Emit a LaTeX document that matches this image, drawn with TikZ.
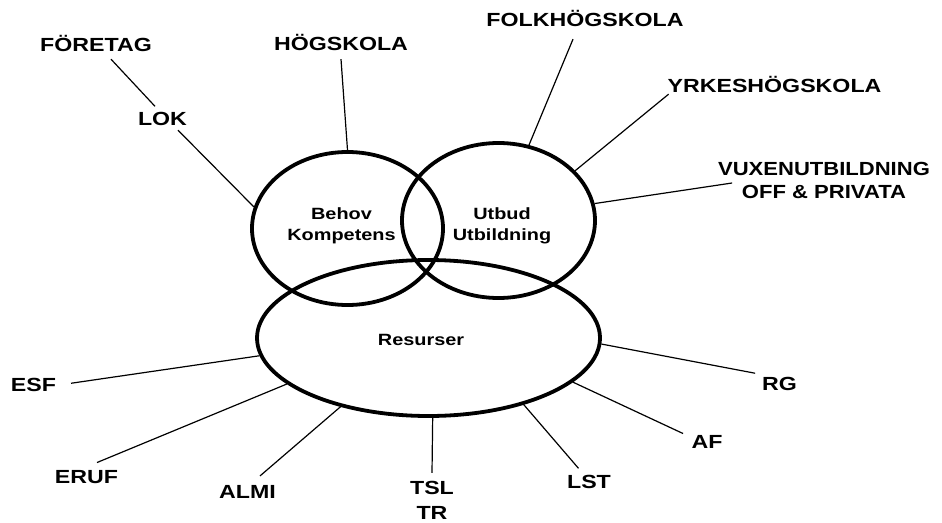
\documentclass[tikz,border=0pt]{standalone}
\usepackage{fontspec}
\setmainfont{Liberation Sans}
\usetikzlibrary{shapes.geometric}
\newcommand{\stx}[1]{\scalebox{1.22}[1]{#1}}
\newcommand{\stxn}[1]{\scalebox{1.16}[1]{#1}}
\begin{document}
\begin{tikzpicture}[x=1pt,y=-1pt,
  lbl/.style={font=\fontsize{19}{23}\selectfont\bfseries, inner sep=0pt, outer sep=0pt, anchor=base},
  lbltwo/.style={font=\fontsize{19}{23}\selectfont\bfseries, inner sep=0pt, outer sep=0pt, align=center},
  innertxt/.style={font=\fontsize{16.3}{21}\selectfont\bfseries, inner sep=0pt, align=center},
  setshape/.style={draw, ellipse, line width=3.8pt, inner sep=0pt},
  link/.style={line width=1.2pt}]
\useasboundingbox (0,0) rectangle (942,522);

% sets
\node[setshape, minimum width=191pt, minimum height=153pt] (L) at (347.5,228.5) {};
\node[setshape, minimum width=193pt, minimum height=155pt] (R) at (498.5,220.5) {};
\node[setshape, minimum width=343pt, minimum height=156pt] (B) at (428.5,338) {};

% inner texts
\node[innertxt] (behov) at (341.5,226) {\stx{Behov}\\\stx{Kompetens}};
\node[innertxt] (utbud) at (502,226) {\stx{Utbud}\\\stx{Utbildning}};
\node[innertxt, anchor=base] (res) at (421,345) {\stx{Resurser}};

% outer labels
\node[lbl] (foretag) at (96,51.5) {\stx{FÖRETAG}};
\node[lbl] (hog) at (341,50) {\stx{HÖGSKOLA}};
\node[lbl] (lok) at (162.5,125) {\stx{LOK}};
\node[lbl] (folk) at (585,27) {\stx{FOLKHÖGSKOLA}};
\node[lbl] (yrk) at (774.5,92) {\stx{YRKESHÖGSKOLA}};
\node[lbltwo] (vux) at (824,180) {\stxn{VUXENUTBILDNING}\\\stxn{OFF \& PRIVATA}};
\node[lbl] (esf) at (33.5,391.8) {\stx{ESF}};
\node[lbl] (eruf) at (86.5,483) {\stx{ERUF}};
\node[lbl] (almi) at (247.5,498) {\stx{ALMI}};
\node[lbltwo, font=\fontsize{19}{25}\selectfont\bfseries] (tsl) at (432,500) {\stx{TSL}\\\stx{TR}};
\node[lbl] (lst) at (589,488) {\stx{LST}};
\node[lbl] (af) at (707,448) {\stx{AF}};
\node[lbl] (rg) at (779.5,390.5) {\stx{RG}};

% connectors
\draw[link] ([xshift=15pt,yshift=-7.5pt]foretag.south) -- ([xshift=-7.5pt,yshift=5.4pt]lok.north);
\draw[link] ([xshift=15.5pt,yshift=-5pt]lok.south) -- (L.167);
\draw[link] ([yshift=-9pt]hog.south) -- (L.north);
\draw[link] ([xshift=-12pt,yshift=-12pt]folk.south) -- (R.68);
\draw[link] ([xshift=1pt,yshift=-2pt]yrk.south west) -- (R.33);
\draw[link] ([xshift=14pt,yshift=-3pt]vux.west) -- (R.10);
\draw[link] ([xshift=15pt,yshift=2pt]esf.east) -- (B.186.8);
\draw[link] ([xshift=10.5pt,yshift=7.4pt]eruf.north) -- (B.198.7);
\draw[link] ([xshift=12.5pt,yshift=9pt]almi.north) -- (B.218.5);
\draw[link] ([yshift=8pt]tsl.north) -- (B.273.5);
\draw[link] ([xshift=-10.5pt,yshift=6.4pt]lst.north) -- (B.325.3);
\draw[link] ([xshift=-8.5pt,yshift=1.4pt]af.north west) -- (B.343.9);
\draw[link] ([xshift=-7pt,yshift=4pt]rg.north west) -- (B.358.2);
\end{tikzpicture}
\end{document}
